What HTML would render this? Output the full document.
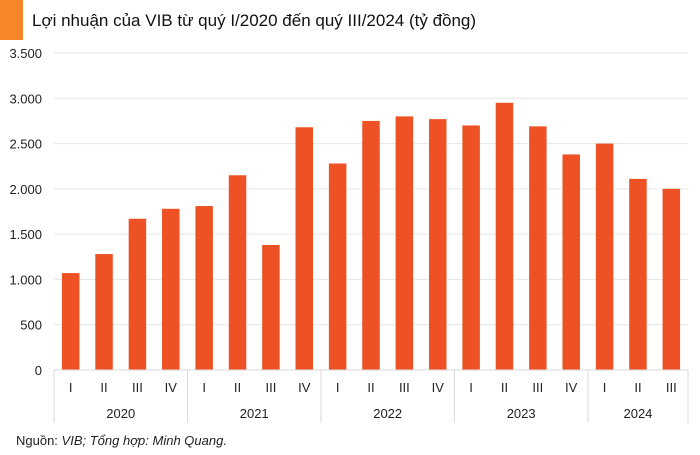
<!DOCTYPE html>
<html><head><meta charset="utf-8">
<style>
body{margin:0;background:#fff;font-family:"Liberation Sans","DejaVu Sans",sans-serif;}
svg{display:block}
</style></head><body>
<svg id="chart" width="700" height="455">
<rect x="0" y="0" width="23" height="40" fill="#f7862a"/>
<text x="32" y="26" font-size="17" fill="#111">Lợi nhuận của VIB từ quý I/2020 đến quý III/2024 (tỷ đồng)</text>
<g id="grid"></g><g id="bars"></g><g id="xaxis"></g>
<text x="16" y="445" font-size="13" fill="#222">Nguồn: <tspan font-style="italic">VIB; Tổng hợp: Minh Quang.</tspan></text>
</svg>
<script>
const quarters=["I","II","III","IV","I","II","III","IV","I","II","III","IV","I","II","III","IV","I","II","III"];
const years=["2020","2021","2022","2023","2024"];
const profits=[1070,1280,1670,1780,1810,2150,1380,2680,2280,2750,2800,2770,2700,2950,2690,2380,2500,2110,2000];
const yTicks=[0,500,1000,1500,2000,2500,3000,3500];
const yTickLabels=["0","500","1.000","1.500","2.000","2.500","3.000","3.500"];
const NS="http://www.w3.org/2000/svg";
const L=54,R=688,Y0=370,Ytop=53,MAX=3500;
const y=v=>Y0-(v/MAX)*(Y0-Ytop);
const bw=(R-L)/quarters.length;
const x=i=>L+bw*(i+0.5);
function mk(t,a,p){const e=document.createElementNS(NS,t);for(const k in a)e.setAttribute(k,a[k]);p.appendChild(e);return e;}
const G=document.getElementById('grid'),B=document.getElementById('bars'),X=document.getElementById('xaxis');
yTicks.forEach((v,i)=>{
 const l=mk('line',{x1:L,x2:R,y1:y(v),y2:y(v),stroke:'#e6e6e6','stroke-width':1},G);
 
 
 const t=mk('text',{x:42,y:y(v)+5,'font-size':13,fill:'#222','text-anchor':'end'},G);
 t.textContent=yTickLabels[i];
 
 
});
profits.forEach((v,i)=>{
 const r=mk('rect',{x:x(i)-8.75,y:y(v),width:17.5,height:Y0-y(v),fill:'#ee5224'},B);
 
 
 const t=mk('text',{x:x(i),y:392,'font-size':13,fill:'#222','text-anchor':'middle'},X);
 t.textContent=quarters[i];
 
 
});
const axis=mk('line',{x1:L,x2:R,y1:Y0,y2:Y0,stroke:'#d9d9d9'},X);


let start=0;
years.forEach((yr,j)=>{
 const n=j<4?4:3;
 const x0=L+bw*start,x1=L+bw*(start+n);
 const s=mk('line',{x1:x0,x2:x0,y1:Y0,y2:423,stroke:'#d9d9d9'},X);
 
 
 const t=mk('text',{x:(x0+x1)/2,y:418,'font-size':13,fill:'#222','text-anchor':'middle'},X);
 t.textContent=yr;
 
 
 start+=n;
});
const e=mk('line',{x1:R,x2:R,y1:Y0,y2:423,stroke:'#d9d9d9'},X);


</script>
</body></html>
